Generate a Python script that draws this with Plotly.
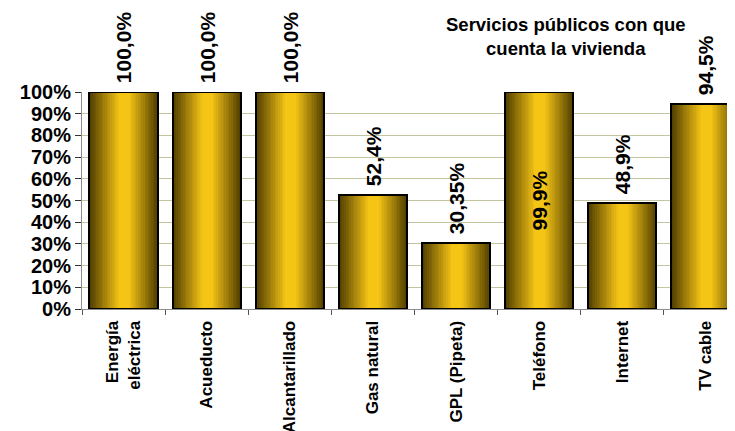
import plotly.graph_objects as go

categories = ["Energía<br>eléctrica", "Acueducto", "Alcantarillado", "Gas natural",
              "GPL (Pipeta)", "Teléfono", "Internet", "TV cable"]
values = [100.0, 100.0, 100.0, 52.4, 30.35, 99.9, 48.9, 94.5]
value_labels = ["100,0%", "100,0%", "100,0%", "52,4%", "30,35%", "99,9%", "48,9%", "94,5%"]
label_positions = ["outside", "outside", "outside", "outside", "outside", "inside", "outside", "outside"]
y_ticks = [0, 10, 20, 30, 40, 50, 60, 70, 80, 90, 100]
y_tick_labels = ["0%", "10%", "20%", "30%", "40%", "50%", "60%", "70%", "80%", "90%", "100%"]
title_text = "Servicios públicos con que<br>cuenta la vivienda"

FONT = "Liberation Sans, Arial, Helvetica, sans-serif"
BAR_W = 0.82
DARK = (84, 64, 0)
BRIGHT = (245, 197, 22)

fig = go.Figure()

# cylinder-like shading: nested overlaid bars, from dark edges to bright centre
N = 18
for k in range(N):
    t = k / (N - 1)
    left = 0.43 * t
    right = 1 - 0.41 * t
    col = tuple(int(round(DARK[i] + (BRIGHT[i] - DARK[i]) * t)) for i in range(3))
    fig.add_trace(go.Bar(
        x=categories, y=values,
        width=(right - left) * BAR_W,
        offset=-BAR_W / 2 + left * BAR_W,
        marker=dict(color="rgb(%d,%d,%d)" % col, line=dict(width=0)),
        hoverinfo="skip", showlegend=False,
    ))

# outline + value labels (outside labels get a small gap from the bar top)
shown_labels = [("\u00a0" + lab) if pos == "outside" else lab
                for lab, pos in zip(value_labels, label_positions)]
fig.add_trace(go.Bar(
    x=categories, y=values,
    width=BAR_W, offset=-BAR_W / 2,
    marker=dict(color="rgba(0,0,0,0)", line=dict(color="#000000", width=2)),
    text=shown_labels, textposition=label_positions,
    textangle=-90, insidetextanchor="middle", constraintext="none",
    cliponaxis=False,
    textfont=dict(family=FONT, size=21, color="#000000", weight="bold"),
    hoverinfo="skip", showlegend=False,
))

fig.add_annotation(
    text=title_text, xref="paper", yref="paper",
    x=0.741, y=1.258, xanchor="center", yanchor="middle",
    showarrow=False, align="center",
    font=dict(family=FONT, size=18.5, color="#000000", weight="bold"),
)

# the page adds an 8px body margin, so the figure is shifted by 8px
fig.update_layout(
    width=735, height=431,
    margin=dict(l=74, r=8, t=84, b=130, pad=0, autoexpand=False),
    paper_bgcolor="white", plot_bgcolor="white",
    barmode="overlay", bargap=0,
    showlegend=False,
    font=dict(family=FONT, color="#000000"),
)
fig.update_xaxes(
    type="category", range=[-0.5, 7.355], automargin=False,
    showline=True, linecolor="#8c8c8c", linewidth=1,
    ticks="outside", tickson="boundaries", ticklen=5, tickcolor="#555555",
    tickangle=-90, showgrid=False, ticklabelstandoff=4,
    tickfont=dict(family=FONT, size=17, color="#000000", weight="bold"),
)
fig.update_yaxes(
    range=[0, 100], tickvals=y_ticks, ticktext=y_tick_labels, automargin=False,
    showline=True, linecolor="#8c8c8c", linewidth=1,
    ticks="outside", ticklen=6, tickcolor="#333333",
    showgrid=True, gridcolor="#c4c59e", gridwidth=1,
    zeroline=False,
    tickfont=dict(family=FONT, size=20, color="#000000", weight="bold"),
)

fig.write_html("out.html")
